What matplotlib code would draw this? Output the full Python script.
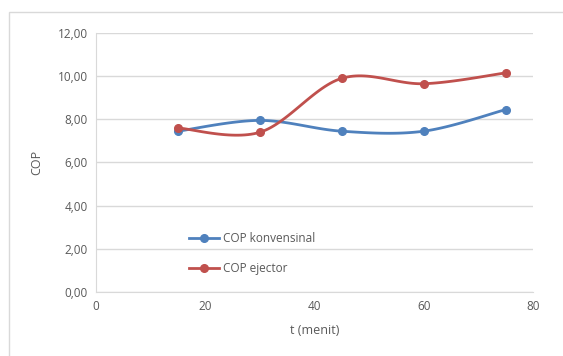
import numpy as np
import matplotlib
matplotlib.use('Agg')
import matplotlib.pyplot as plt
from matplotlib.patches import Rectangle

# COP measurements against time
t_menit = [15, 30, 45, 60, 75]
cop_konvensinal = [7.45, 7.95, 7.45, 7.45, 8.45]
cop_ejector = [7.6, 7.4, 9.9, 9.65, 10.15]
y_ticks = [0, 2, 4, 6, 8, 10, 12]
x_ticks = [0, 20, 40, 60, 80]

blue = '#4F81BD'
red = '#C0504D'
text_color = '#595959'
grid_color = '#D9D9D9'

plt.rcParams['font.family'] = ['Open Sans', 'DejaVu Sans']


def smooth(x, y, n=30):
    # Catmull-Rom style smoothing through every point (like Excel's smoothed line)
    x = np.asarray(x, float)
    y = np.asarray(y, float)
    px = np.concatenate([[x[0]], x, [x[-1]]])
    py = np.concatenate([[y[0]], y, [y[-1]]])
    xs, ys = [], []
    for i in range(1, len(px) - 2):
        p0 = np.array([px[i], py[i]])
        p3 = np.array([px[i + 1], py[i + 1]])
        c1 = p0 + (p3 - np.array([px[i - 1], py[i - 1]])) / 6
        c2 = p3 - (np.array([px[i + 2], py[i + 2]]) - p0) / 6
        s = np.linspace(0, 1, n)[:, None]
        pts = ((1 - s) ** 3) * p0 + 3 * ((1 - s) ** 2) * s * c1 + 3 * (1 - s) * s ** 2 * c2 + s ** 3 * p3
        xs.extend(pts[:, 0])
        ys.extend(pts[:, 1])
    return xs, ys


fig = plt.figure(figsize=(5.63, 3.56), dpi=100)
ax = fig.add_axes([0.1705, 0.1798, 0.776, 0.7275])

# chart area border
fig.patches.append(Rectangle((9 / 563, -0.1), 1.2, 1 - 12 / 356 + 0.1, transform=fig.transFigure,
                             fill=False, edgecolor='#D9D9D9', linewidth=1))

for vals, col, lab in [(cop_konvensinal, blue, 'COP konvensinal'), (cop_ejector, red, 'COP ejector')]:
    sx, sy = smooth(t_menit, vals)
    ax.plot(sx, sy, color=col, linewidth=2, solid_capstyle='round')
    ax.plot(t_menit, vals, 'o', color=col, markersize=5.5)
    ax.plot([], [], color=col, linewidth=2, marker='o', markersize=5.5, label=lab)

ax.set_xlim(0, 80)
ax.set_ylim(0, 12)
ax.set_xticks(x_ticks)
ax.set_yticks(y_ticks)
ax.set_yticklabels([f'{v:.2f}'.replace('.', ',') for v in y_ticks])
ax.grid(axis='y', color=grid_color, linewidth=1)
ax.set_axisbelow(True)
ax.tick_params(length=0, labelsize=8.5, colors=text_color, pad=6)
for side in ['top', 'right']:
    ax.spines[side].set_visible(False)
for side in ['left', 'bottom']:
    ax.spines[side].set_color('#D9D9D9')

ax.set_xlabel('t (menit)', fontsize=9, color=text_color, labelpad=8)
ax.set_ylabel('COP', fontsize=9, color=text_color, labelpad=10)

leg = ax.legend(loc='lower left', bbox_to_anchor=(0.188, 0.025), frameon=False, fontsize=8.5,
                handlelength=2.6, labelspacing=1.45, handletextpad=0.3, labelcolor=text_color)

fig.savefig('out.png', dpi=100, facecolor='white')
